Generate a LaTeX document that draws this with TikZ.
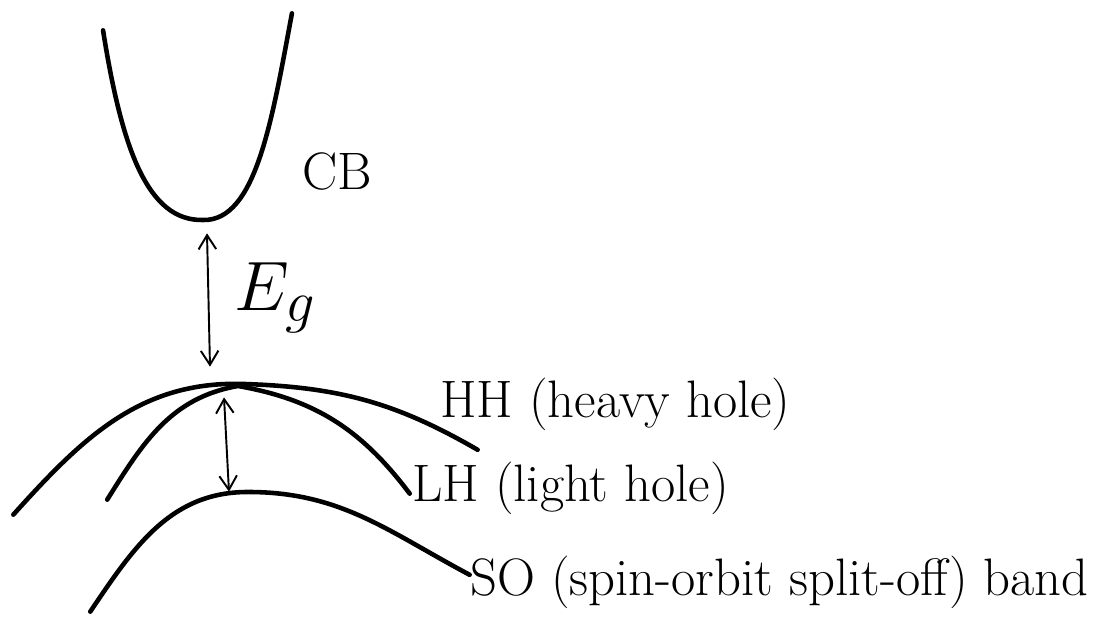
\documentclass[tikz,border=0pt]{standalone}
\usepackage{amsmath}
\usepackage{tikz}
\usetikzlibrary{arrows.meta}
\tikzstyle{ivertex}=[inner sep=0pt, minimum size=0pt]
\tikzstyle{band}=[line width=2.6pt, line cap=round]
\tikzstyle{gapedge}=[line width=1.1pt, {Straight Barb[length=8pt,width=10pt]}-{Straight Barb[length=8pt,width=10pt]}]
\tikzstyle{labelsty}=[font=\fontsize{30}{34}\selectfont, anchor=west, inner sep=0pt]

\begin{document}
\begin{tikzpicture}[x=0.02cm,y=-0.02cm]
					\useasboundingbox (0,0) rectangle (1116,621);

					% conduction band
					\node[ivertex] (cbL) at (103,30) {};
					\node[ivertex] (cbM) at (203,220) {};
					\node[ivertex] (cbR) at (292,13) {};
					\draw[band] (cbL) .. controls (122,150) and (148,221) .. (cbM)
						.. controls (256,221) and (272,120) .. (cbR);
					\node[labelsty] (cb) at (302,172) {CB};

					% gap
					\node[ivertex] (egT) at (207,233) {};
					\node[ivertex] (egB) at (210,367) {};
					\draw[gapedge] (egT) -- (egB);
					\node[labelsty,font=\fontsize{24.88}{28}\selectfont,scale=1.6] (eg) at (234,298) {$E_g$};

					% heavy hole
					\node[ivertex] (hhL) at (13,515) {};
					\node[ivertex] (hhT) at (245,384) {};
					\node[ivertex] (hhR) at (478,450) {};
					\draw[band] (hhL) to [out=48,in=178] (hhT) to [out=-2,in=150] (hhR);
					\node[labelsty] (hh) at (440,404) {HH (heavy hole)};

					% light hole
					\node[ivertex] (lhL) at (107,500) {};
					\node[ivertex] (lhT) at (238,386) {};
					\node[ivertex] (lhR) at (410,494) {};
					\draw[band] (lhL) to [out=58,in=190] (lhT) to [out=-10,in=127] (lhR);
					\node[labelsty] (lh) at (412,488) {LH (light hole)};

					% split-off
					\node[ivertex] (soA) at (224,397) {};
					\node[ivertex] (soB) at (229,492) {};
					\draw[gapedge] (soA) -- (soB);

					\node[ivertex] (soL) at (90,612) {};
					\node[ivertex] (soT) at (248,492) {};
					\node[ivertex] (soR) at (470,575) {};
					\draw[band] (soL) to [out=56,in=180] (soT) to [out=0,in=152] (soR);
					\node[labelsty] (so) at (470,582) {SO (spin-orbit split-off) band};

				\end{tikzpicture}
\end{document}
